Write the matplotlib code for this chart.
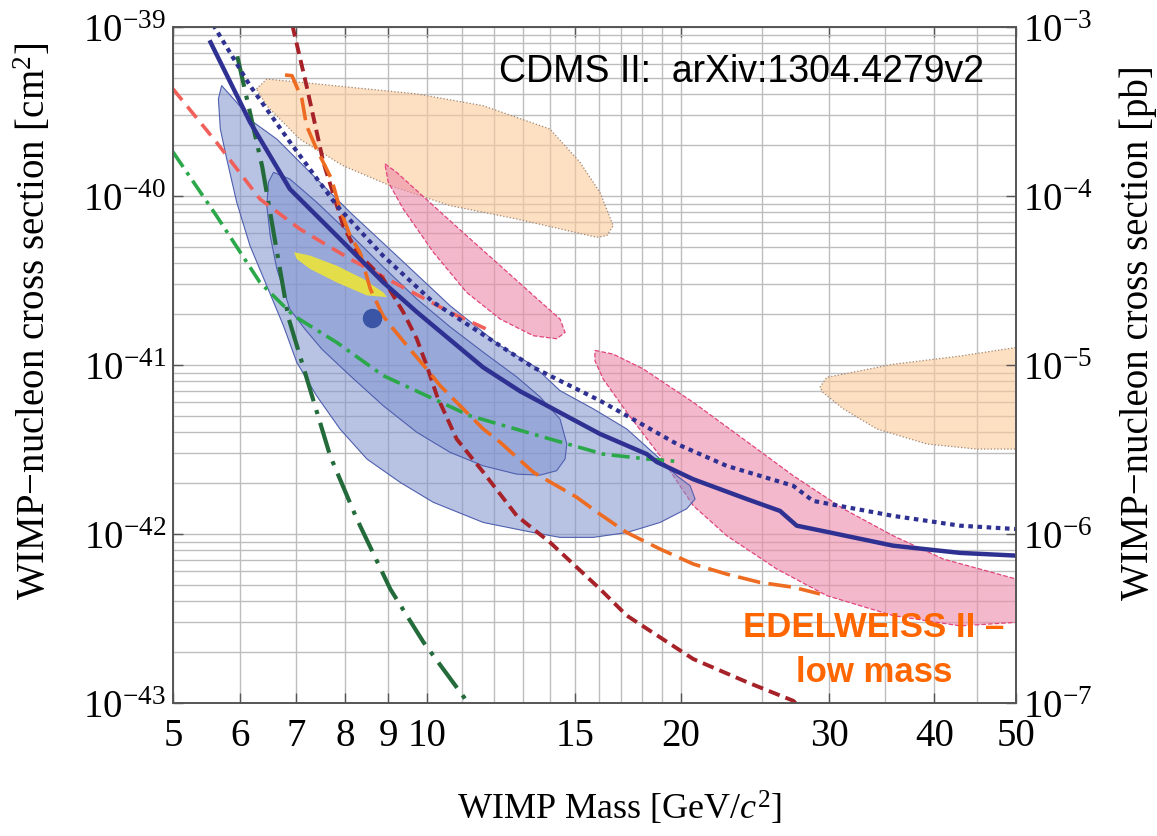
import matplotlib.pyplot as plt
from matplotlib.colors import to_rgba
from matplotlib.ticker import NullFormatter

plt.rcParams['font.family'] = 'Liberation Serif'
plt.rcParams['mathtext.fontset'] = 'custom'
plt.rcParams['mathtext.rm'] = 'Liberation Serif'
plt.rcParams['mathtext.it'] = 'Liberation Serif:italic'

# ===== DATA (mass in GeV/c^2, cross section in cm^2) =====
# CDMS II Si 90% upper limit (solid) and expected/other limit (dotted)
cdms_m = [5.54, 6.17, 6.88, 7.82, 8.87, 9.73, 11.66, 12.9, 16.05, 18.24, 18.74, 20.7,
          23.97, 26.24, 27.47, 29.82, 35.74, 42.92, 50.0]
cdms_s = [8.12e-40, 2.74e-40, 1.10e-40, 5.82e-41, 3.10e-41, 2.06e-41, 9.7e-42, 7.0e-42,
          3.91e-42, 2.97e-42, 2.67e-42, 2.11e-42, 1.61e-42, 1.37e-42, 1.12e-42, 1.03e-42,
          8.53e-43, 7.73e-43, 7.45e-43]

dotted_m = [5.58, 6.17, 6.88, 7.82, 8.87, 10.17, 13.37, 14.39, 16.05, 17.27, 19.8, 22.69,
            27.2, 28.72, 35.74, 42.92, 50.0]
dotted_s = [1.03e-39, 4.50e-40, 2.09e-40, 8.77e-41, 4.44e-41, 2.36e-41, 9.7e-42, 8.07e-42,
            6.15e-42, 5.01e-42, 3.41e-42, 2.53e-42, 1.93e-42, 1.57e-42, 1.28e-42, 1.12e-42,
            1.07e-42]

salmon_m = [5.0, 5.63, 6.34, 7.07, 8.11, 9.30, 10.66, 12.0]
salmon_s = [4.30e-40, 2.08e-40, 9.6e-41, 6.38e-41, 4.24e-41, 2.94e-41, 2.05e-41, 1.56e-41]

green_m = [5.0, 5.63, 6.34, 6.95, 7.82, 8.88, 11.25, 14.0, 16.19, 18.24, 19.97]
green_s = [1.82e-40, 7.64e-41, 3.08e-41, 1.96e-41, 1.36e-41, 8.65e-42, 5.01e-42, 3.65e-42,
           2.97e-42, 2.78e-42, 2.68e-42]

dkgreen_m = [5.96, 6.38, 6.85, 7.68, 8.26, 9.05, 9.91, 11.15, 11.3]
dkgreen_s = [6.71e-40, 1.49e-40, 1.92e-41, 2.90e-42, 1.23e-42, 4.73e-43, 2.29e-43, 1.03e-43,
             9.5e-44]

dkred_m = [6.85, 7.20, 7.54, 7.96, 8.26, 8.88, 9.38, 9.73, 10.0, 10.28, 10.85, 11.67, 12.79,
           14.0, 16.05, 17.27, 20.71, 23.97, 27.22, 27.6]
dkred_s = [1.3e-39, 4.50e-40, 1.58e-40, 6.67e-41, 4.65e-41, 3.23e-41, 2.05e-41, 1.43e-41,
           9.9e-42, 6.58e-42, 3.65e-42, 2.32e-42, 1.28e-42, 8.93e-43, 4.73e-43, 3.29e-43,
           1.82e-43, 1.33e-43, 1.03e-43, 9.6e-44]

edw_m = [6.79, 6.92, 7.11, 7.20, 7.40, 7.71, 7.89, 8.11, 8.33, 8.57, 8.87, 9.13, 9.55, 10.0,
         10.37, 10.66, 11.15, 11.67, 12.22, 12.79, 13.38, 14.26, 15.06, 16.05, 17.27, 18.91,
         20.71, 22.69, 24.85, 27.22, 29.27]
edw_s = [5.2e-40, 5.15e-40, 3.75e-40, 2.61e-40, 1.90e-40, 1.26e-40, 8.37e-41, 5.82e-41,
         4.65e-41, 2.82e-41, 1.96e-41, 1.63e-41, 1.24e-41, 9.47e-42, 7.55e-42, 6.58e-42,
         5.25e-42, 4.18e-42, 3.49e-42, 2.84e-42, 2.32e-42, 1.93e-42, 1.65e-42, 1.31e-42,
         1.02e-42, 8.15e-43, 6.64e-43, 5.79e-43, 5.17e-43, 4.84e-43, 4.42e-43]

# CDMS II Si allowed regions (95% outer, 68% inner)
si95_m = [5.71, 5.95, 6.23, 6.64, 7.27, 8.11, 9.30, 10.66, 12.22, 13.38, 14.39, 15.76, 17.27,
          18.91, 19.80, 20.53, 20.81, 20.34, 18.91, 17.27, 15.76, 14.39, 13.38, 11.67, 10.18,
          9.30, 8.49, 7.89, 7.40, 7.01, 6.76, 6.46, 6.17, 5.95, 5.79, 5.69, 5.66]
si95_s = [4.50e-40, 3.58e-40, 2.73e-40, 2.17e-40, 1.38e-40, 8.01e-41, 4.24e-41, 2.24e-41,
          1.30e-41, 9.9e-42, 7.05e-42, 5.50e-42, 4.18e-42, 2.78e-42, 2.21e-42, 1.93e-42,
          1.61e-42, 1.41e-42, 1.17e-42, 1.02e-42, 9.55e-43, 9.55e-43, 1.02e-42, 1.17e-42,
          1.54e-42, 2.02e-42, 2.78e-42, 4.18e-42, 6.58e-42, 1.04e-41, 1.71e-41, 2.94e-41,
          5.08e-41, 9.2e-41, 1.66e-40, 2.49e-40, 3.75e-40]

si68_m = [6.58, 6.88, 7.40, 8.11, 8.88, 9.73, 10.66, 11.67, 12.79, 13.63, 14.39, 14.66, 14.59,
          14.26, 13.63, 12.79, 11.67, 10.66, 9.73, 8.88, 8.11, 7.51, 7.17, 6.88, 6.64, 6.52,
          6.46, 6.49]
si68_s = [1.38e-40, 1.26e-40, 9.2e-41, 5.96e-41, 3.80e-41, 2.46e-41, 1.68e-41, 1.19e-41,
          8.49e-42, 6.47e-42, 4.79e-42, 3.41e-42, 2.78e-42, 2.37e-42, 2.23e-42, 2.26e-42,
          2.53e-42, 3.04e-42, 4.0e-42, 5.74e-42, 8.65e-42, 1.24e-41, 1.63e-41, 2.14e-41,
          3.70e-41, 5.82e-41, 8.77e-41, 1.21e-40]

best_fit_m = 8.6
best_fit_s = 1.91e-41

yellow_m = [6.96, 7.27, 7.82, 8.41, 8.88, 8.97, 8.49, 7.82, 7.27, 7.01]
yellow_s = [4.65e-41, 4.44e-41, 3.87e-41, 3.23e-41, 2.69e-41, 2.52e-41, 2.58e-41, 3.08e-41,
            3.70e-41, 4.24e-41]

peach1_m = [6.28, 6.46, 7.07, 8.11, 9.73, 11.67, 14.0, 15.2, 16.05, 16.64, 16.35, 15.91,
            12.79, 10.66, 9.05, 7.96, 7.07, 6.46]
peach1_s = [4.30e-40, 4.92e-40, 4.71e-40, 4.40e-40, 4.02e-40, 3.42e-40, 2.49e-40, 1.58e-40,
            1.05e-40, 6.67e-41, 5.82e-41, 5.70e-41, 7.31e-41, 8.77e-41, 1.15e-40, 1.51e-40,
            2.17e-40, 3.42e-40]

peach2_m = [29.27, 29.82, 35.74, 42.92, 50.0, 53.0, 53.0, 50.0, 44.9, 39.2, 34.2, 31.2, 29.5]
peach2_s = [7.38e-42, 8.45e-42, 1.01e-41, 1.13e-41, 1.27e-41, 1.33e-41, 3.1e-42, 3.18e-42,
            3.18e-42, 3.41e-42, 4.18e-42, 5.50e-42, 6.89e-42]

pink1_m = [8.92, 9.21, 10.18, 11.15, 12.22, 13.38, 14.39, 14.59, 14.26, 13.38, 12.22, 11.15,
           10.18, 9.38, 9.0]
pink1_s = [1.55e-40, 1.38e-40, 8.77e-41, 5.82e-41, 3.87e-41, 2.58e-41, 1.87e-41, 1.56e-41,
           1.43e-41, 1.49e-41, 1.87e-41, 2.69e-41, 4.65e-41, 8.37e-41, 1.21e-40]

pink2_m = [15.83, 16.64, 18.07, 20.71, 23.74, 27.22, 31.2, 35.74, 41.0, 50.0, 53.0, 53.0,
           50.0, 42.92, 35.74, 29.82, 26.01, 22.69, 20.71, 18.91, 17.27, 16.19, 15.83]
pink2_s = [1.22e-41, 1.16e-41, 9.47e-42, 6.01e-42, 3.65e-42, 2.21e-42, 1.41e-42, 9.77e-43,
           7.11e-43, 5.42e-43, 4.9e-43, 2.9e-43, 3.0e-43, 2.86e-43, 3.29e-43, 4.32e-43,
           6.21e-43, 9.77e-43, 1.47e-42, 2.90e-42, 5.25e-42, 8.26e-42, 1.06e-41]

x_major = [5, 6, 7, 8, 9, 10, 15, 20, 30, 40, 50]
x_minor = [11, 12, 13, 14, 16, 17, 18, 19, 25, 35, 45]

# ===== FIGURE =====
fig = plt.figure(figsize=(11.57, 8.37), dpi=100)
ax = fig.add_axes([173 / 1157, 1 - 704 / 837, 843 / 1157, 676 / 837])
ax.set_xscale('log')
ax.set_yscale('log')
ax.set_xlim(5, 50)
ax.set_ylim(1e-43, 1e-39)

# filled regions
ax.fill(peach1_m, peach1_s, facecolor=to_rgba('#FCCB9A', 0.6), edgecolor='#A08672',
        lw=0.9, ls=':', zorder=1)
ax.fill(peach2_m, peach2_s, facecolor=to_rgba('#FCCB9A', 0.6), edgecolor='#A08672',
        lw=0.9, ls=':', zorder=1)
ax.fill(pink1_m, pink1_s, facecolor=to_rgba('#EE8AAA', 0.6), edgecolor='#E2457E',
        lw=0.9, ls='--', zorder=1.2)
ax.fill(pink2_m, pink2_s, facecolor=to_rgba('#EE8AAA', 0.6), edgecolor='#E2457E',
        lw=0.9, ls='--', zorder=1.2)
ax.fill(si95_m, si95_s, facecolor=to_rgba('#7F93CF', 0.55), edgecolor='#4F5FAE',
        lw=0.8, zorder=1.4)
ax.fill(si68_m, si68_s, facecolor=to_rgba('#7F93CF', 0.55), edgecolor='#4F5FAE',
        lw=0.8, zorder=1.5)
ax.fill(yellow_m, yellow_s, facecolor='#E3DD4A', edgecolor='none', zorder=1.6)

# limit curves
ax.plot(dkgreen_m, dkgreen_s, color='#236B3A', lw=3.0, ls=(0, (7.5, 2.2, 1, 2.2)),
        zorder=3)
ax.plot(green_m, green_s, color='#2BA84A', lw=2.6, ls=(0, (5, 1.8, 1, 1.8)), zorder=3)
ax.plot(salmon_m, salmon_s, color='#F0605A', lw=2.6, ls=(0, (4, 2.3)), zorder=3)
ax.plot(dkred_m, dkred_s, color='#A62128', lw=2.8, ls=(0, (3, 1.6)), zorder=3)
ax.plot(edw_m, edw_s, color='#EE6C22', lw=2.6, ls=(0, (6.3, 2.3)), zorder=3.2)
ax.plot(dotted_m, dotted_s, color='#2E3192', lw=3.0, ls=(0, (1.1, 1.1)),
        solid_capstyle='butt', zorder=3.4)
ax.plot(cdms_m, cdms_s, color='#2E3192', lw=3.2, zorder=3.5)
ax.plot([best_fit_m], [best_fit_s], 'o', color='#3A55A5', ms=13, zorder=4)

# axes, ticks and grid
ax.set_xticks(x_major)
ax.set_xticklabels([str(v) for v in x_major])
ax.set_xticks(x_minor, minor=True)
ax.xaxis.set_minor_formatter(NullFormatter())
ax.yaxis.set_minor_formatter(NullFormatter())
ax.grid(True, which='both', color='#BDBDBD', lw=1.0)
ax.set_axisbelow(True)
ax.tick_params(which='major', direction='in', length=7, width=1, top=True,
               labelsize=28, pad=10, color='#555555')
ax.tick_params(which='minor', length=0)
ax.tick_params(axis='y', pad=5)
for sp in ax.spines.values():
    sp.set_color('#555555')
    sp.set_linewidth(1.2)

ax2 = ax.twinx()
ax2.set_yscale('log')
ax2.set_ylim(1e-7, 1e-3)
ax2.yaxis.set_minor_formatter(NullFormatter())
ax2.tick_params(which='major', direction='in', length=7, width=1, labelsize=28, pad=5,
                color='#555555')
ax2.tick_params(which='minor', length=0)
for sp in ax2.spines.values():
    sp.set_color('#555555')
    sp.set_linewidth(1.2)

# labels
fig.text(620 / 1157, 1 - 809 / 837, 'WIMP Mass [GeV/$c^2$]', fontsize=26,
         ha='center', va='center')
fig.text(34 / 1157, 1 - 600 / 837, 'WIMP\u2212nucleon cross section [cm$^2$]',
         fontsize=28, rotation=90, ha='center', va='bottom')
fig.text(1138 / 1157, 1 - 600 / 837, 'WIMP\u2212nucleon cross section [pb]',
         fontsize=28, rotation=90, ha='center', va='bottom')

ax.text(0.674, 0.935, 'CDMS II:  arXiv:1304.4279v2', transform=ax.transAxes,
        fontsize=27, family='Liberation Sans', ha='center', va='center', zorder=5)
ax.text(0.8316, 0.0991, 'EDELWEISS II \u2013', transform=ax.transAxes, fontsize=25,
        family='Liberation Sans', weight='bold', color='#FF6600', ha='center',
        va='baseline', zorder=5)
ax.text(0.8316, 0.0325, 'low mass', transform=ax.transAxes, fontsize=25,
        family='Liberation Sans', weight='bold', color='#FF6600', ha='center',
        va='baseline', zorder=5)

fig.savefig('out.png', dpi=100)
